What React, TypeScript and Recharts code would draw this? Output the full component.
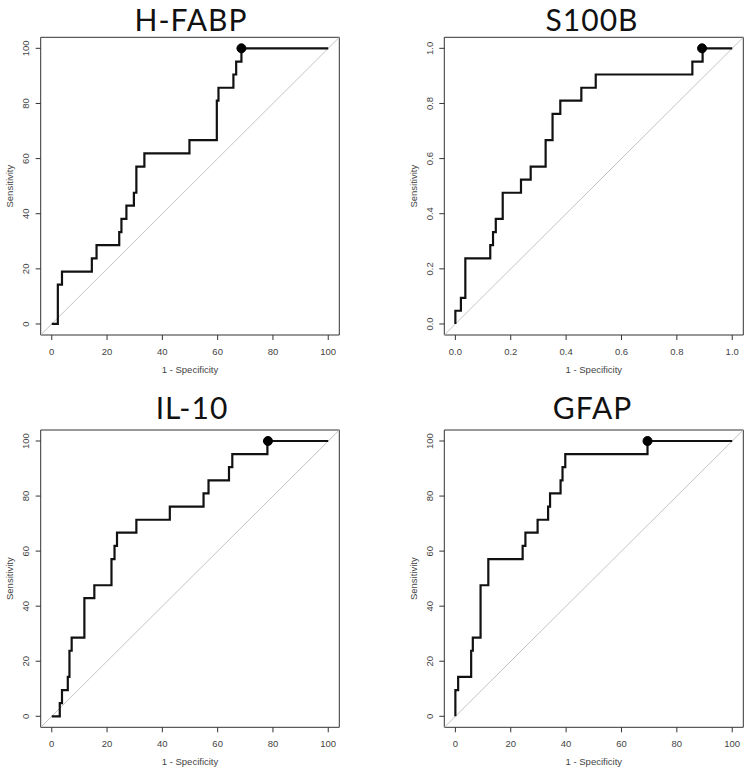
import React from 'react';
import {
  LineChart, Line, XAxis, YAxis, ReferenceArea, ReferenceLine, ReferenceDot, Label,
} from 'recharts';

// ---------- data (1 - specificity, sensitivity) at each vertical step ----------
const titles = ['H-FABP', 'S100B', 'IL-10', 'GFAP'];

const hfabpFpr = [0, 2.2, 3.7, 14.5, 16.2, 24.4, 25.2, 27.0, 29.7, 30.6, 33.5, 49.8, 59.7, 60.3, 65.7, 66.7, 68.6, 100];
const hfabpSens = [0, 14.3, 19.0, 23.8, 28.6, 33.3, 38.1, 42.9, 47.6, 57.1, 61.9, 66.7, 81.0, 85.7, 90.5, 95.2, 100, 100];
const hfabpBest = { x: 68.6, y: 100 };

const s100bFpr = [0, 0, 0.020, 0.036, 0.126, 0.136, 0.146, 0.171, 0.237, 0.272, 0.326, 0.351, 0.379, 0.455, 0.507, 0.856, 0.893, 1.0];
const s100bSens = [0, 0.048, 0.095, 0.238, 0.286, 0.333, 0.381, 0.476, 0.524, 0.571, 0.667, 0.762, 0.810, 0.857, 0.905, 0.952, 1.0, 1.0];
const s100bBest = { x: 0.891, y: 1.0 };

const il10Fpr = [0, 2.9, 3.7, 5.8, 6.4, 7.2, 11.8, 15.4, 21.6, 22.7, 23.6, 30.6, 42.7, 54.9, 56.7, 64.1, 65.3, 78.0, 100];
const il10Sens = [0, 4.8, 9.5, 14.3, 23.8, 28.6, 42.9, 47.6, 57.1, 61.9, 66.7, 71.4, 76.2, 81.0, 85.7, 90.5, 95.2, 100, 100];
const il10Best = { x: 78.2, y: 100 };

const gfapFpr = [0, 0, 1.0, 5.7, 6.3, 9.1, 11.9, 24.3, 25.3, 29.7, 33.5, 34.2, 38.0, 38.7, 39.7, 69.4, 100];
const gfapSens = [0, 9.5, 14.3, 23.8, 28.6, 47.6, 57.1, 61.9, 66.7, 71.4, 76.2, 81.0, 85.7, 90.5, 95.2, 100, 100];
const gfapBest = { x: 69.4, y: 100 };

const pctTicks = [0, 20, 40, 60, 80, 100];
const propTicks = [0, 0.2, 0.4, 0.6, 0.8, 1.0];

const xAxisTitle = '1 - Specificity';
const yAxisTitle = 'Sensitivity';

// ---------- layout ----------
const PANEL_W = 375;
const PANEL_H = 385;
const TICK_FONT = '"Liberation Sans", Arial, sans-serif';

type Panel = {
  title: string;
  fpr: number[];
  sens: number[];
  best: { x: number; y: number };
  ticks: number[];
  scale: number; // 100 or 1
  left: number;
  top: number;
  margin: { top: number; right: number; bottom: number; left: number };
  yAxisWidth: number;
  xAxisHeight: number;
  titleX: number;
  titleY: number;
};

const panels: Panel[] = [
  {
    title: titles[0], fpr: hfabpFpr, sens: hfabpSens, best: hfabpBest, ticks: pctTicks, scale: 100,
    left: 0, top: 0, margin: { top: 37.3, right: 35.7, bottom: 0, left: 0 }, yAxisWidth: 40.7, xAxisHeight: 50,
    titleX: 191, titleY: 31,
  },
  {
    title: titles[1], fpr: s100bFpr, sens: s100bSens, best: s100bBest, ticks: propTicks, scale: 1,
    left: 375, top: 0, margin: { top: 37.3, right: 6.7, bottom: 0, left: 0 }, yAxisWidth: 69.3, xAxisHeight: 50,
    titleX: 592, titleY: 31,
  },
  {
    title: titles[2], fpr: il10Fpr, sens: il10Sens, best: il10Best, ticks: pctTicks, scale: 100,
    left: 0, top: 385, margin: { top: 45, right: 35.7, bottom: 0, left: 0 }, yAxisWidth: 40.7, xAxisHeight: 42.7,
    titleX: 192, titleY: 418.5,
  },
  {
    title: titles[3], fpr: gfapFpr, sens: gfapSens, best: gfapBest, ticks: pctTicks, scale: 100,
    left: 375, top: 385, margin: { top: 45, right: 6.7, bottom: 0, left: 0 }, yAxisWidth: 69.3, xAxisHeight: 42.7,
    titleX: 592.5, titleY: 418.5,
  },
];

const fmt = (scale: number) => (v: number) => (scale === 1 ? v.toFixed(1) : String(v));

const YTick = (scale: number) => (props: any) => {
  const { x, y, payload } = props;
  const bx = x - 6.5;
  return (
    <text
      x={bx}
      y={y}
      transform={`rotate(-90, ${bx}, ${y})`}
      textAnchor="middle"
      fill="#444"
      fontSize={9.5}
      fontFamily={TICK_FONT}
    >
      {fmt(scale)(payload.value)}
    </text>
  );
};

const XTitle = (props: any) => {
  const vb = props.viewBox || {};
  return (
    <text x={vb.x + vb.width / 2} y={vb.y + 38} textAnchor="middle" fill="#444" fontSize={9.5} fontFamily={TICK_FONT}>
      {xAxisTitle}
    </text>
  );
};

const YTitle = (props: any) => {
  const vb = props.viewBox || {};
  const cx = vb.x + vb.width - 30.7 + 3.5;
  const cy = vb.y + vb.height / 2;
  return (
    <text x={cx} y={cy} transform={`rotate(-90, ${cx}, ${cy})`} textAnchor="middle" fill="#444" fontSize={9.5} fontFamily={TICK_FONT}>
      {yAxisTitle}
    </text>
  );
};

function RocPanel({ p }: { p: Panel }) {
  const data = p.fpr.map((x, i) => ({ x, y: p.sens[i] }));
  const pad = 0.04 * p.scale;
  const lo = -pad;
  const hi = p.scale + pad;
  return (
    <div style={{ position: 'absolute', left: p.left, top: p.top, width: PANEL_W, height: PANEL_H }}>
      <LineChart width={PANEL_W} height={PANEL_H} data={data} margin={p.margin}>
        <XAxis
          dataKey="x"
          type="number"
          domain={[lo, hi]}
          allowDataOverflow
          ticks={p.ticks}
          tickFormatter={fmt(p.scale)}
          axisLine={false}
          tickLine={{ stroke: '#333', strokeWidth: 1 }}
          tickSize={5}
          tickMargin={8}
          height={p.xAxisHeight}
          tick={{ fill: '#444', fontSize: 9.5, fontFamily: TICK_FONT }}
          interval={0}
        >
          <Label content={XTitle} />
        </XAxis>
        <YAxis
          dataKey="y"
          type="number"
          domain={[lo, hi]}
          allowDataOverflow
          ticks={p.ticks}
          axisLine={false}
          tickLine={{ stroke: '#333', strokeWidth: 1 }}
          tickSize={5}
          tickMargin={0}
          width={p.yAxisWidth}
          tick={YTick(p.scale)}
          interval={0}
        >
          <Label content={YTitle} />
        </YAxis>
        <ReferenceLine
          segment={[{ x: lo, y: lo }, { x: hi, y: hi }]}
          stroke="#c4c4c4"
          strokeWidth={1}
        />
        <Line
          type="stepAfter"
          dataKey="y"
          stroke="#111"
          strokeWidth={2.2}
          dot={false}
          activeDot={false}
          isAnimationActive={false}
        />
        <ReferenceDot x={p.best.x} y={p.best.y} r={4.5} fill="#000" stroke="#000" />
        <ReferenceArea x1={lo} x2={hi} y1={lo} y2={hi} fill="none" fillOpacity={0} stroke="#333" strokeWidth={1} />
      </LineChart>
    </div>
  );
}

export default function App() {
  return (
    <div style={{ position: 'absolute', left: 0, top: 0, width: 750, height: 770, background: '#fff' }}>
      {panels.map((p) => (
        <RocPanel key={p.title} p={p} />
      ))}
      <svg width={750} height={770} style={{ position: 'absolute', left: 0, top: 0, pointerEvents: 'none' }}>
        {panels.map((p) => (
          <text
            key={p.title}
            x={p.titleX}
            y={p.titleY}
            textAnchor="middle"
            fill="#111"
            fontSize={30}
            letterSpacing={1}
            fontFamily="Lato, 'Open Sans', sans-serif"
          >
            {p.title}
          </text>
        ))}
      </svg>
    </div>
  );
}
